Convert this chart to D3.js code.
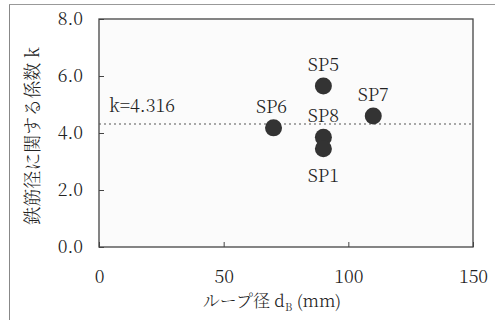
<!DOCTYPE html>
<html>
<head>
<meta charset="utf-8">
<script src="https://cdn.jsdelivr.net/npm/d3@7"></script>
<style>
  html, body { margin: 0; padding: 0; background: #fff; }
  svg { display: block; }
</style>
</head>
<body>
<svg id="chart" width="498" height="320"></svg>
<script>
// Specimens: loop diameter d_B (mm) and coefficient k
const specimens = ["SP5", "SP6", "SP7", "SP8", "SP1"];
const loopDiameter = [90, 70, 110, 90, 90];
const coefK = [5.65, 4.18, 4.6, 3.85, 3.45];
const meanK = 4.316;
const xTicks = [0, 50, 100, 150];
const yTicks = [0, 2, 4, 6, 8];
// label placement relative to each point: above / below
const labelSide = ["above", "above", "above", "above", "below"];

const SERIF = "'Noto Serif CJK JP', 'Liberation Serif', serif";
const INK = "#222";

const svg = d3.select("#chart");
const m = { left: 99, right: 25, top: 19, bottom: 73 };
const W = 498, H = 320;

const x = d3.scaleLinear().domain([0, 150]).range([m.left, W - m.right]);
const y = d3.scaleLinear().domain([0, 8]).range([H - m.bottom, m.top]);

function label(sel, size) {
  return sel.attr("font-family", SERIF).style("font-family", SERIF)
    .style("font-size", size + "px").style("font-weight", 300).attr("fill", INK);
}

// outer frame (left and top edges)
svg.append("line").attr("x1", 9.5).attr("x2", 9.5).attr("y1", 4).attr("y2", 320)
  .attr("stroke", "#888").attr("stroke-width", 1);
svg.append("line").attr("x1", 9).attr("x2", 495).attr("y1", 4.5).attr("y2", 4.5)
  .attr("stroke", "#999").attr("stroke-width", 1.2);

// plot area
svg.append("rect")
  .attr("x", x(0)).attr("y", y(8))
  .attr("width", x(150) - x(0)).attr("height", y(0) - y(8))
  .attr("fill", "#fbfbfb").attr("stroke", "#444").attr("stroke-width", 1.3);

// axes with inward ticks
const yAxis = d3.axisLeft(y).tickValues(yTicks).tickSize(-5).tickPadding(16)
  .tickFormat(d3.format(".1f"));
const gy = svg.append("g").attr("transform", `translate(${x(0)},0)`).call(yAxis);
gy.select(".domain").remove();
gy.selectAll(".tick line").attr("stroke", "#444");
label(gy.selectAll(".tick text"), 18);

const xAxis = d3.axisBottom(x).tickValues(xTicks).tickSize(-5).tickPadding(23)
  .tickFormat(d3.format("d"));
const gx = svg.append("g").attr("transform", `translate(0,${y(0)})`).call(xAxis);
gx.select(".domain").remove();
gx.selectAll(".tick line").attr("stroke", "#444");
label(gx.selectAll(".tick text"), 18);

// mean line
svg.append("line")
  .attr("x1", x(0)).attr("x2", x(150))
  .attr("y1", y(meanK)).attr("y2", y(meanK))
  .attr("stroke", "#555").attr("stroke-width", 1.2).attr("stroke-dasharray", "2,3");
label(svg.append("text"), 18)
  .attr("x", x(0) + 10).attr("y", y(meanK) - 12)
  .text("k=" + meanK);

// points
const data = specimens.map((s, i) => ({ name: s, d: loopDiameter[i], k: coefK[i], side: labelSide[i] }));
svg.append("g").selectAll("circle").data(data).join("circle")
  .attr("cx", d => x(d.d)).attr("cy", d => y(d.k)).attr("r", 8.5)
  .attr("fill", "#333");

label(svg.append("g").selectAll("text").data(data).join("text"), 18)
  .attr("x", d => x(d.d) + (d.name === "SP6" ? -2 : 0))
  .attr("y", d => d.side === "above" ? y(d.k) - 15 : y(d.k) + 33)
  .attr("text-anchor", "middle")
  .text(d => d.name);

// axis titles
const xt = label(svg.append("text"), 17)
  .attr("x", 272).attr("y", 307)
  .attr("text-anchor", "middle");
xt.append("tspan").text("ループ径 d");
xt.append("tspan").attr("dy", 4).style("font-size", "11px").text("B");
xt.append("tspan").attr("dy", -4).text(" (mm)");

label(svg.append("text"), 18)
  .attr("transform", `translate(39,${(y(0) + y(8)) / 2 + 3}) rotate(-90)`)
  .attr("text-anchor", "middle")
  .text("鉄筋径に関する係数 k");
</script>
</body>
</html>
